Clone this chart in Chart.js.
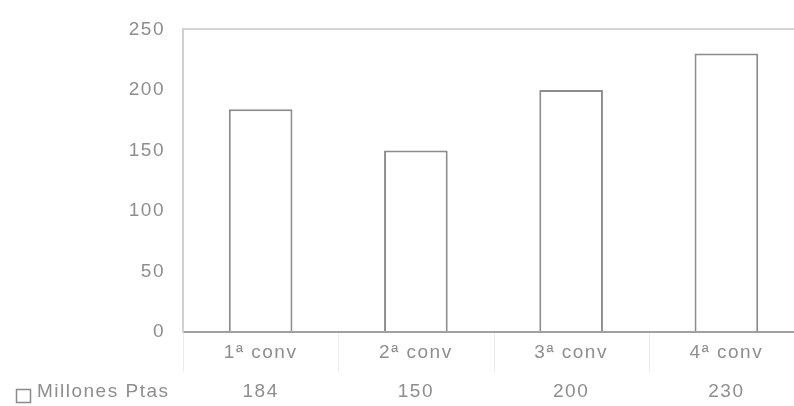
<!DOCTYPE html>
<html>
<head>
<meta charset="utf-8">
<script src="https://cdn.jsdelivr.net/npm/chart.js@4.4.1/dist/chart.umd.min.js"></script>
<style>
    html, body { margin: 0; padding: 0; background: #fff; overflow: hidden; }
    #wrap { width: 804px; height: 406px; position: relative; }
</style>
</head>
<body>
<div id="wrap"><canvas id="chart"></canvas></div>
<script>
const categories = ['1ª conv', '2ª conv', '3ª conv', '4ª conv'];
const seriesName = 'Millones Ptas';
const seriesValues = [184, 150, 200, 230];
const yTicks = [0, 50, 100, 150, 200, 250];

const textGray = '#8e8e8e';
const fontFamily = '"Liberation Sans", Arial, sans-serif';

// draws the little data table under the axis (separators, legend key, values row)
const dataTablePlugin = {
    id: 'dataTable',
    beforeDraw(chart) {
        chart.ctx.letterSpacing = '1.5px';
    },
    afterDraw(chart) {
        const ctx = chart.ctx;
        const x = chart.scales.x;
        const area = chart.chartArea;
        const half = (x.getPixelForValue(1) - x.getPixelForValue(0)) / 2;

        ctx.save();
        ctx.strokeStyle = '#ececec';
        ctx.lineWidth = 1;
        categories.forEach((c, i) => {
            const left = Math.round(x.getPixelForValue(i) - half) + 0.5;
            ctx.beginPath();
            ctx.moveTo(left, area.bottom + 1);
            ctx.lineTo(left, area.bottom + 40);
            ctx.stroke();
        });

        // legend key
        ctx.strokeStyle = '#8a8a8a';
        ctx.lineWidth = 1.5;
        ctx.strokeRect(16.5, 389.5, 14, 13);

        ctx.fillStyle = textGray;
        ctx.font = '19px ' + fontFamily;
        ctx.letterSpacing = '1.5px';
        ctx.textBaseline = 'middle';
        ctx.textAlign = 'left';
        ctx.fillText(seriesName, 37, 392);

        ctx.textAlign = 'center';
        seriesValues.forEach((v, i) => {
            ctx.fillText(String(v), x.getPixelForValue(i), 392);
        });
        ctx.restore();
    }
};

new Chart(document.getElementById('chart'), {
    type: 'bar',
    data: {
        labels: categories,
        datasets: [{
            label: seriesName,
            data: seriesValues,
            backgroundColor: '#ffffff',
            borderColor: '#8c8c8c',
            borderWidth: 2,
            categoryPercentage: 1,
            barPercentage: 0.41
        }]
    },
    plugins: [dataTablePlugin],
    options: {
        responsive: true,
        maintainAspectRatio: false,
        animation: false,
        layout: { padding: { top: 29, left: 0, right: 0, bottom: 0 } },
        plugins: {
            legend: { display: false },
            tooltip: { enabled: false }
        },
        scales: {
            x: {
                offset: true,
                grid: { display: false, drawTicks: false },
                border: { display: true, color: '#a0a0a0', width: 2 },
                ticks: {
                    color: textGray,
                    font: { size: 19, family: fontFamily },
                    padding: 9,
                    maxRotation: 0
                },
                afterFit(scale) { scale.height = 74; }
            },
            y: {
                min: 0,
                max: 250,
                afterBuildTicks(scale) { scale.ticks = yTicks.map(v => ({ value: v })); },
                grid: {
                    drawTicks: false,
                    lineWidth: 2,
                    color: c => (c.tick && c.tick.value === 250) ? '#d4d4d4' : 'rgba(0,0,0,0)'
                },
                border: { display: true, color: '#d0d0d0', width: 2 },
                ticks: {
                    color: textGray,
                    font: { size: 19, family: fontFamily },
                    padding: 18
                },
                afterFit(scale) { scale.width = 183; }
            }
        }
    }
});
</script>
</body>
</html>
